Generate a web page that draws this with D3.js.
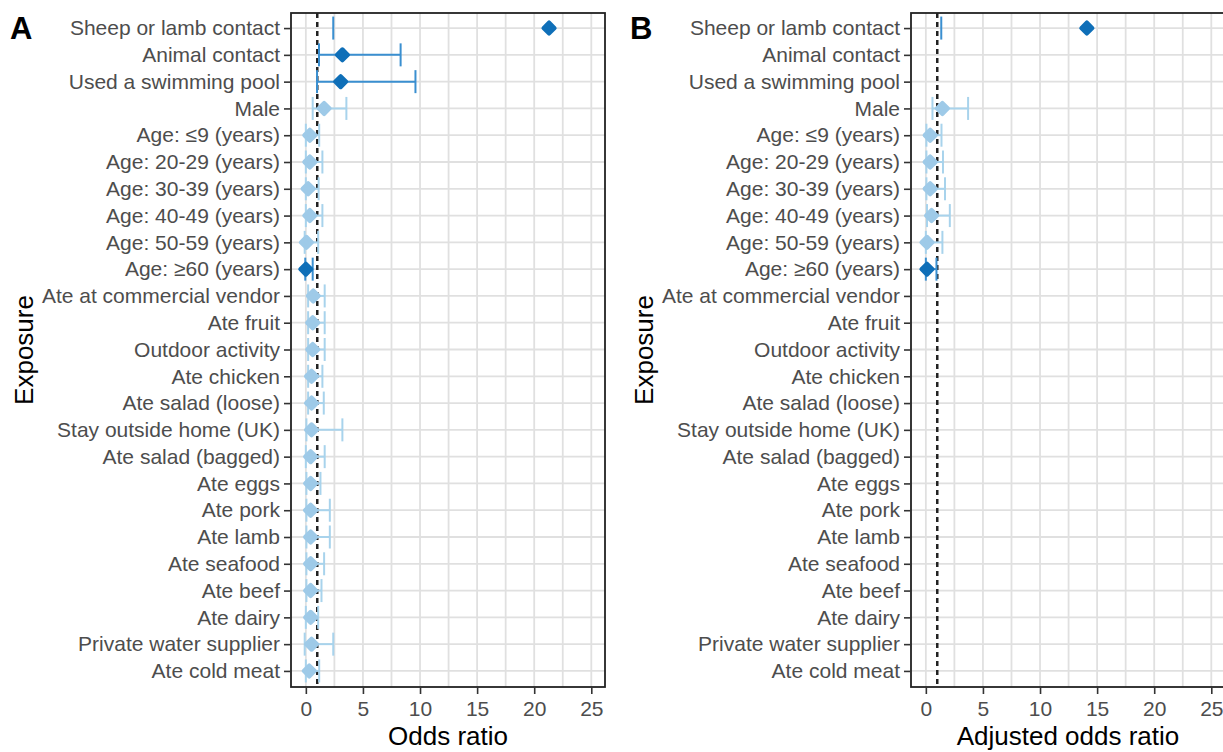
<!DOCTYPE html>
<html>
<head>
<meta charset="utf-8">
<script src="https://cdn.jsdelivr.net/npm/d3@7"></script>
<style>
  body { margin: 0; background: #fff; }
  text { font-family: "Liberation Sans", Arial, sans-serif; }
</style>
</head>
<body>
<div id="chart"></div>
<script>
var svgWidth = 1223;
var svgHeight = 752;

// exposures, top to bottom
var exposures = ["Sheep or lamb contact", "Animal contact", "Used a swimming pool", "Male",
  "Age: \u22649 (years)", "Age: 20-29 (years)", "Age: 30-39 (years)", "Age: 40-49 (years)",
  "Age: 50-59 (years)", "Age: \u226560 (years)", "Ate at commercial vendor", "Ate fruit",
  "Outdoor activity", "Ate chicken", "Ate salad (loose)", "Stay outside home (UK)",
  "Ate salad (bagged)", "Ate eggs", "Ate pork", "Ate lamb", "Ate seafood", "Ate beef",
  "Ate dairy", "Private water supplier", "Ate cold meat"];

// panel A: crude odds ratios (null upper = off the scale)
var orEst = [21.3, 3.2, 3.05, 1.6, 0.35, 0.35, 0.2, 0.35, 0.05, 0.0, 0.65, 0.6, 0.6, 0.5, 0.5, 0.5, 0.42, 0.42, 0.42, 0.42, 0.42, 0.42, 0.42, 0.5, 0.3];
var orLo  = [2.4, 1.15, 0.98, 0.6, 0.0, 0.0, 0.0, 0.0, -0.1, -0.05, 0.2, 0.2, 0.2, 0.2, 0.2, 0.05, 0.0, 0.05, 0.05, 0.05, 0.05, 0.05, 0.0, -0.1, 0.0];
var orHi  = [null, 8.3, 9.6, 3.55, 1.17, 1.45, 1.12, 1.45, 1.08, 0.6, 1.65, 1.65, 1.65, 1.45, 1.57, 3.2, 1.65, 1.28, 2.1, 2.1, 1.6, 1.37, 1.08, 2.4, 1.17];
var orSig = [1, 1, 1, 0, 0, 0, 0, 0, 0, 1, 0, 0, 0, 0, 0, 0, 0, 0, 0, 0, 0, 0, 0, 0, 0];

// panel B: adjusted odds ratios (null = not in model)
var aorEst = [14.1, null, null, 1.45, 0.38, 0.38, 0.38, 0.5, 0.1, 0.1, null, null, null, null, null, null, null, null, null, null, null, null, null, null, null];
var aorLo  = [1.35, null, null, 0.58, 0.05, 0.05, 0.05, 0.1, 0.0, 0.0, null, null, null, null, null, null, null, null, null, null, null, null, null, null, null];
var aorHi  = [null, null, null, 3.7, 1.37, 1.5, 1.68, 2.1, 1.45, 0.93, null, null, null, null, null, null, null, null, null, null, null, null, null, null, null];
var aorSig = [1, 0, 0, 0, 0, 0, 0, 0, 0, 1, 0, 0, 0, 0, 0, 0, 0, 0, 0, 0, 0, 0, 0, 0, 0];

var xTicks = [0, 5, 10, 15, 20, 25];
var xMinor = [2.5, 7.5, 12.5, 17.5, 22.5];

var panelTop = 13, panelBottom = 687, panelW = 314;

var svg = d3.select("#chart").append("svg")
    .attr("width", svgWidth)
    .attr("height", svgHeight);

function drawPanel(left, letter, letterX, title, est, lo, hi, sig) {
    var x = d3.scaleLinear().domain([-1.3, 26.2]).range([left, left + panelW]);
    var y = d3.scalePoint().domain(exposures).range([panelTop - 1, panelBottom]).padding(0.6);
    var g = svg.append("g");

    // grid
    g.selectAll(".vgrid").data(xTicks.concat(xMinor)).enter().append("line")
        .attr("x1", function(d) { return x(d); }).attr("x2", function(d) { return x(d); })
        .attr("y1", panelTop).attr("y2", panelBottom)
        .attr("stroke", "#e0e0e0").attr("stroke-width", 1.8);
    g.selectAll(".hgrid").data(exposures).enter().append("line")
        .attr("x1", left).attr("x2", left + panelW)
        .attr("y1", function(d) { return y(d); }).attr("y2", function(d) { return y(d); })
        .attr("stroke", "#e0e0e0").attr("stroke-width", 1.8);

    // reference line at 1
    g.append("line")
        .attr("x1", x(1)).attr("x2", x(1))
        .attr("y1", panelTop).attr("y2", panelBottom)
        .attr("stroke", "#222").attr("stroke-width", 2.5)
        .attr("stroke-dasharray", "5,4");

    var rows = exposures.map(function(e, i) {
        return {name: e, est: est[i], lo: lo[i], hi: hi[i], sig: sig[i]};
    }).filter(function(d) { return d.est !== null; });

    var barCol = function(d) { return d.sig ? "#3a8fd0" : "#a8d3ec"; };
    var ptCol = function(d) { return d.sig ? "#0f6fb8" : "#9ecae8"; };
    var cap = 11.5;

    // error bars
    rows.filter(function(d) { return d.hi !== null; }).forEach(function(d) {
        g.append("line")
            .attr("x1", x(d.lo)).attr("x2", x(d.hi))
            .attr("y1", y(d.name)).attr("y2", y(d.name))
            .attr("stroke", barCol(d)).attr("stroke-width", 2);
        g.append("line")
            .attr("x1", x(d.hi)).attr("x2", x(d.hi))
            .attr("y1", y(d.name) - cap).attr("y2", y(d.name) + cap)
            .attr("stroke", barCol(d)).attr("stroke-width", 2);
    });
    rows.forEach(function(d) {
        g.append("line")
            .attr("x1", x(d.lo)).attr("x2", x(d.lo))
            .attr("y1", y(d.name) - cap).attr("y2", y(d.name) + cap)
            .attr("stroke", barCol(d)).attr("stroke-width", 2);
    });

    // points
    g.selectAll(".pt").data(rows).enter().append("path")
        .attr("d", d3.symbol().type(d3.symbolDiamond2).size(80))
        .attr("transform", function(d) { return "translate(" + x(d.est) + "," + y(d.name) + ")"; })
        .attr("fill", ptCol).attr("stroke", ptCol)
        .attr("stroke-width", 4).attr("stroke-linejoin", "round");

    // border
    g.append("rect")
        .attr("x", left).attr("y", panelTop)
        .attr("width", panelW).attr("height", panelBottom - panelTop)
        .attr("fill", "none").attr("stroke", "#222").attr("stroke-width", 1.8);

    // axes
    var yAxis = g.append("g")
        .attr("transform", "translate(" + left + ",0)")
        .call(d3.axisLeft(y).tickSize(7).tickPadding(4));
    var xAxis = g.append("g")
        .attr("transform", "translate(0," + panelBottom + ")")
        .call(d3.axisBottom(x).tickValues(xTicks).tickSize(7).tickPadding(7));
    [xAxis, yAxis].forEach(function(a) {
        a.select(".domain").remove();
        a.selectAll(".tick line").attr("stroke", "#333").attr("stroke-width", 1.6);
        a.selectAll(".tick text").attr("fill", "#4d4d4d")
            .style("font-family", "'Liberation Sans', Arial, sans-serif")
            .style("font-size", "21px");
    });

    svg.append("text")
        .attr("x", left + panelW / 2).attr("y", 745)
        .attr("text-anchor", "middle")
        .style("font-size", "26px").attr("fill", "#000")
        .text(title);

    svg.append("text")
        .attr("x", letterX).attr("y", 39)
        .style("font-size", "31px").style("font-weight", "bold")
        .text(letter);

    svg.append("text")
        .attr("transform", "translate(" + (letterX + 23) + "," + ((panelTop + panelBottom) / 2) + ") rotate(-90)")
        .attr("text-anchor", "middle")
        .style("font-size", "26px").attr("fill", "#000")
        .text("Exposure");
}

drawPanel(291, "A", 10, "Odds ratio", orEst, orLo, orHi, orSig);
drawPanel(911, "B", 630, "Adjusted odds ratio", aorEst, aorLo, aorHi, aorSig);
</script>
</body>
</html>
